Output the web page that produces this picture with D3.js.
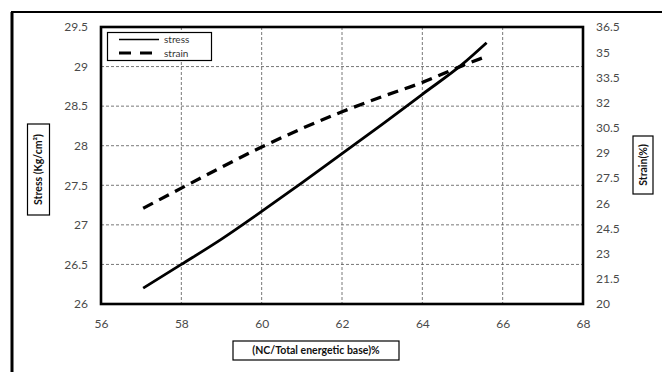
<!DOCTYPE html>
<html>
<head>
<meta charset="utf-8">
<style>
	body { margin: 0; background: #fff; }
	text { font-family: Lato, "Open Sans", sans-serif; }
</style>
</head>
<body>
<svg width="662" height="372"></svg>
<script src="https://cdnjs.cloudflare.com/ajax/libs/d3/7.8.5/d3.min.js"></script>
<script>
	// data
	var ncRatio = [57.05, 58, 59, 60, 61, 62, 63, 64, 65, 65.6];
	var stress  = [26.2, 26.5, 26.82, 27.17, 27.53, 27.9, 28.27, 28.65, 29.03, 29.3];
	var strain  = [25.7, 26.9, 28.15, 29.35, 30.45, 31.45, 32.35, 33.2, 34.2, 34.75];
	var xTicks = [56, 58, 60, 62, 64, 66, 68];
	var leftTicks = [26, 26.5, 27, 27.5, 28, 28.5, 29, 29.5];
	var rightTicks = [20, 21.5, 23, 24.5, 26, 27.5, 29, 30.5, 32, 33.5, 35, 36.5];

	var L = 101, R = 583, T = 27, B = 304;
	var svg = d3.select("svg");

	var x = d3.scaleLinear().domain([56, 68]).range([L, R]);
	var yL = d3.scaleLinear().domain([26, 29.5]).range([B, T]);
	var yR = d3.scaleLinear().domain([20, 36.5]).range([B, T]);

	// outer frame (only left and top visible)
	svg.append("line").attr("x1", 12).attr("y1", 12).attr("x2", 12).attr("y2", 372)
		.attr("stroke", "#000").attr("stroke-width", 3);
	svg.append("line").attr("x1", 11).attr("y1", 12).attr("x2", 662).attr("y2", 12)
		.attr("stroke", "#000").attr("stroke-width", 2);

	// grid
	var grid = svg.append("g").attr("stroke", "#555").attr("stroke-width", 0.8).attr("stroke-dasharray", "3,2");
	xTicks.slice(1, -1).forEach(function(v){
		grid.append("line").attr("x1", x(v)).attr("x2", x(v)).attr("y1", T).attr("y2", B);
	});
	leftTicks.slice(1, -1).forEach(function(v){
		grid.append("line").attr("x1", L).attr("x2", R).attr("y1", yL(v)).attr("y2", yL(v));
	});

	// axes (labels only)
	var axX = svg.append("g").attr("transform", "translate(0," + B + ")")
		.call(d3.axisBottom(x).tickValues(xTicks).tickSize(0).tickPadding(15).tickFormat(d3.format("d")));
	var axL = svg.append("g").attr("transform", "translate(" + L + ",0)")
		.call(d3.axisLeft(yL).tickValues(leftTicks).tickSize(0).tickPadding(13).tickFormat(function(d){ return String(d); }));
	var axR = svg.append("g").attr("transform", "translate(" + R + ",0)")
		.call(d3.axisRight(yR).tickValues(rightTicks).tickSize(0).tickPadding(13).tickFormat(function(d){ return String(d); }));
	[axX, axL, axR].forEach(function(a){
		a.select(".domain").remove();
		a.selectAll("text").attr("font-size", 12).attr("fill", "#4a4a4a").style("font-family", "Lato, sans-serif");
	});

	// lines
	var pts = ncRatio.map(function(v, i){ return [v, stress[i], strain[i]]; });
	svg.append("path").datum(pts)
		.attr("fill", "none").attr("stroke", "#000").attr("stroke-width", 2.8)
		.attr("d", d3.line().curve(d3.curveMonotoneX).x(function(d){ return x(d[0]); }).y(function(d){ return yL(d[1]); }));
	svg.append("path").datum(pts)
		.attr("fill", "none").attr("stroke", "#000").attr("stroke-width", 3.3).attr("stroke-dasharray", "11,7")
		.attr("d", d3.line().curve(d3.curveMonotoneX).x(function(d){ return x(d[0]); }).y(function(d){ return yR(d[2]); }));

	// plot border
	svg.append("rect").attr("x", L).attr("y", T).attr("width", R - L).attr("height", B - T)
		.attr("fill", "none").attr("stroke", "#000").attr("stroke-width", 2.6);

	// legend
	var lg = svg.append("g");
	lg.append("rect").attr("x", 107.5).attr("y", 32.5).attr("width", 104).attr("height", 28)
		.attr("fill", "#fff").attr("stroke", "#000").attr("stroke-width", 1.2);
	lg.append("line").attr("x1", 119).attr("x2", 159).attr("y1", 39.5).attr("y2", 39.5)
		.attr("stroke", "#000").attr("stroke-width", 1.5);
	lg.append("line").attr("x1", 119).attr("x2", 159).attr("y1", 53).attr("y2", 53)
		.attr("stroke", "#000").attr("stroke-width", 3).attr("stroke-dasharray", "12,9");
	lg.append("text").attr("x", 164).attr("y", 43).attr("font-size", 10).attr("fill", "#333").text("stress");
	lg.append("text").attr("x", 164).attr("y", 56.5).attr("font-size", 10).attr("fill", "#333").text("strain");

	// boxed axis titles
	function boxTitle(cx, cy, w, h, rot, txt, fs){
		var g = svg.append("g").attr("transform", "translate(" + cx + "," + cy + ") rotate(" + rot + ")");
		g.append("rect").attr("x", -w / 2).attr("y", -h / 2).attr("width", w).attr("height", h)
			.attr("fill", "#fff").attr("stroke", "#000").attr("stroke-width", 1.2);
		g.append("text").attr("text-anchor", "middle").attr("dy", "0.35em")
			.attr("font-size", fs).attr("font-weight", "bold").attr("fill", "#111").text(txt);
	}
	boxTitle(38.5, 169.5, 91, 22, -90, "Stress (Kg/cm²)", 10.5);
	boxTitle(643, 165, 58, 20, -90, "Strain(%)", 10.5);
	boxTitle(316, 350.5, 166, 19, 0, "(NC/Total energetic base)%", 10.5);
</script>
</body>
</html>
